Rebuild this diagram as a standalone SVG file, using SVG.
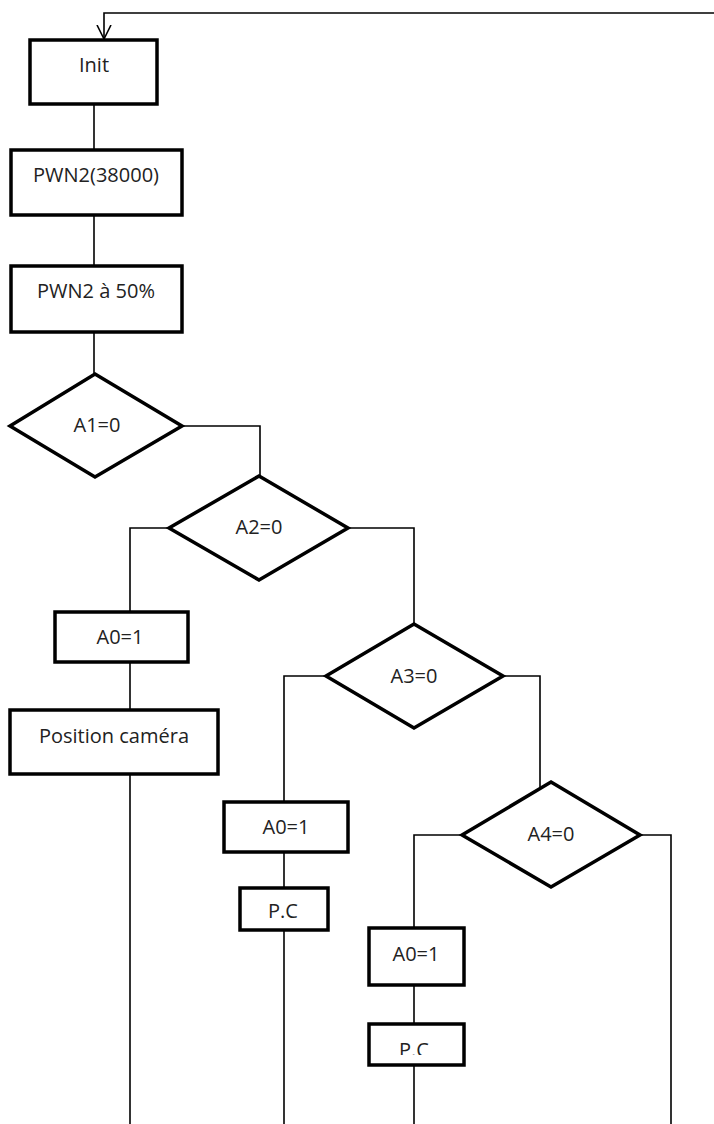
<svg xmlns="http://www.w3.org/2000/svg" width="714" height="1124" viewBox="0 0 714 1124">
<style>
.box{fill:#fff;stroke:#000;stroke-width:3.5}
.con{fill:none;stroke:#000;stroke-width:1.6}
.t{font-family:"Open Sans","Liberation Sans",sans-serif;font-size:20px;fill:#222;text-anchor:middle}
</style>
<defs>
<marker id="openV" viewBox="0 0 16 16" refX="14" refY="8" markerWidth="16" markerHeight="16" markerUnits="userSpaceOnUse" orient="auto">
<path d="M0,1 L14,8 L0,15" fill="none" stroke="#000" stroke-width="1.6"/>
</marker>
<clipPath id="pcclip"><rect x="369" y="1024" width="95" height="31"/></clipPath>
</defs>
<rect width="714" height="1124" fill="#fff"/>
<g id="connectors">
<path class="con" d="M714,13 H104 V39" marker-end="url(#openV)"/>
<path class="con" d="M94,104 V150"/>
<path class="con" d="M94,215 V266"/>
<path class="con" d="M94,332 V374"/>
<path class="con" d="M182,426 H260 V476"/>
<path class="con" d="M169,528 H130 V612"/>
<path class="con" d="M130,662 V710"/>
<path class="con" d="M130,774 V1124"/>
<path class="con" d="M348,528 H414 V624"/>
<path class="con" d="M326,676 H284 V802"/>
<path class="con" d="M284,852 V888"/>
<path class="con" d="M284,930 V1124"/>
<path class="con" d="M503,676 H540 V789"/>
<path class="con" d="M462,835 H414 V928"/>
<path class="con" d="M414,985 V1024"/>
<path class="con" d="M414,1065 V1124"/>
<path class="con" d="M640,835 H671 V1124"/>
</g>
<g id="init"><rect class="box" x="30" y="40" width="127" height="64"/><text class="t" x="94" y="72">Init</text></g>
<g id="pwn2-freq"><rect class="box" x="11" y="150" width="171" height="65"/><text class="t" x="96" y="182">PWN2(38000)</text></g>
<g id="pwn2-duty"><rect class="box" x="11" y="266" width="171" height="66"/><text class="t" x="96" y="298">PWN2 à 50%</text></g>
<g id="a1"><polygon class="box" points="95,374 182,426 95,477 10,426"/><text class="t" x="97" y="432">A1=0</text></g>
<g id="a2"><polygon class="box" points="259,476 348,528 259,580 169,528"/><text class="t" x="259" y="534">A2=0</text></g>
<g id="a0-1"><rect class="box" x="55" y="612" width="133" height="50"/><text class="t" x="120" y="644">A0=1</text></g>
<g id="position-camera"><rect class="box" x="10" y="710" width="208" height="64"/><text class="t" x="114" y="743">Position caméra</text></g>
<g id="a3"><polygon class="box" points="414,624 503,676 414,728 326,676"/><text class="t" x="414" y="683">A3=0</text></g>
<g id="a0-2"><rect class="box" x="224" y="802" width="124" height="50"/><text class="t" x="286" y="834">A0=1</text></g>
<g id="pc-2"><rect class="box" x="240" y="888" width="88" height="42"/><text class="t" x="283" y="918">P.C</text></g>
<g id="a4"><polygon class="box" points="551,782 640,835 551,887 462,835"/><text class="t" x="551" y="841">A4=0</text></g>
<g id="a0-3"><rect class="box" x="369" y="928" width="95" height="57"/><text class="t" x="416" y="961">A0=1</text></g>
<g id="pc-3"><rect class="box" x="369" y="1024" width="95" height="41"/><text class="t" x="414" y="1057" clip-path="url(#pcclip)">P.C</text></g>
</svg>
